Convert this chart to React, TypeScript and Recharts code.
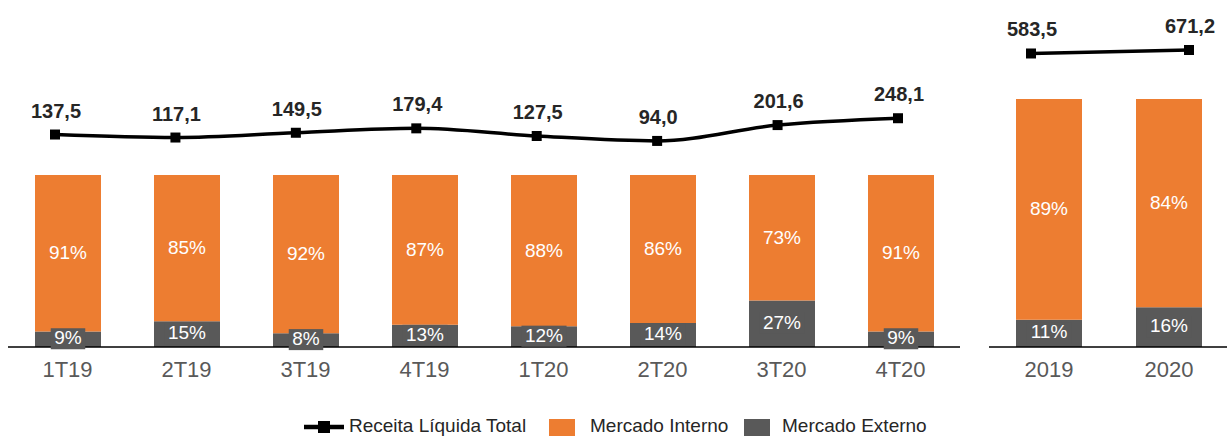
import React from "react";
import { ComposedChart, Bar, Line, XAxis, YAxis, LabelList } from "recharts";

// quarterly panel
const quarters = ["1T19", "2T19", "3T19", "4T19", "1T20", "2T20", "3T20", "4T20"];
const quarterRevenue = [137.5, 117.1, 149.5, 179.4, 127.5, 94.0, 201.6, 248.1];
const quarterInterno = [91, 85, 92, 87, 88, 86, 73, 91];
const quarterExterno = [9, 15, 8, 13, 12, 14, 27, 9];

// yearly panel
const years = ["2019", "2020"];
const yearRevenue = [583.5, 671.2];
const yearInterno = [89, 84];
const yearExterno = [11, 16];

const ORANGE = "#ED7D31";
const GRAY = "#595959";
const FONT = "'Liberation Sans', Arial, sans-serif";

const buildRows = (cats: string[], rev: number[], int: number[], ext: number[]) =>
  cats.map((name, i) => ({ name, receita: rev[i], interno: int[i], externo: ext[i] }));

const quarterRows = buildRows(quarters, quarterRevenue, quarterInterno, quarterExterno);
const yearRows = buildRows(years, yearRevenue, yearInterno, yearExterno);

const fmt = (v: number) => v.toFixed(1).replace(".", ",");

const RevenueLabel = (props: any) => {
  const { x, y, value } = props;
  return (
    <text x={x + 1} y={y - 17} textAnchor="middle" fontFamily={FONT} fontSize={20} fontWeight="bold" fill="#262626">
      {fmt(value)}
    </text>
  );
};

const InnerLabel = (withBox: boolean) => (props: any) => {
  const { x, y, width, height, value } = props;
  const cx = x + width / 2;
  const cy = y + height / 2;
  const w = (String(value).length * 10.6 + 16.9) + 7;
  return (
    <g>
      {withBox && <rect x={cx - w / 2} y={cy - 11} width={w} height={21} fill={GRAY} />}
      <text x={cx} y={cy + (withBox ? 5 : 6)} textAnchor="middle" fontFamily={FONT} fontSize={19} fill="#ffffff">
        {value + "%"}
      </text>
    </g>
  );
};

const Marker = (props: any) => {
  const { cx, cy } = props;
  return <rect x={cx - 5} y={cy - 5} width={10} height={10} fill="#000" />;
};

function Panel({ rows, width, left, right, barMax, lineDomain, linePad }: any) {
  return (
    <ComposedChart
      width={width}
      height={437}
      data={rows}
      margin={{ top: 20, right, bottom: 60, left }}
    >
      <XAxis
        dataKey="name"
        tickLine={false}
        axisLine={{ stroke: "#000", strokeWidth: 1.5 }}
        tick={{ fill: GRAY, fontSize: 22, fontFamily: FONT }}
        tickMargin={8}
      />
      <XAxis xAxisId="line" dataKey="name" hide scale="point" padding={linePad} />
      <YAxis yAxisId="pct" hide domain={[0, barMax]} />
      <YAxis yAxisId="rev" hide orientation="right" domain={lineDomain} />
      <Bar yAxisId="pct" dataKey="externo" stackId="s" fill={GRAY} barSize={66} isAnimationActive={false}>
        <LabelList dataKey="externo" content={InnerLabel(true)} />
      </Bar>
      <Bar yAxisId="pct" dataKey="interno" stackId="s" fill={ORANGE} barSize={66} isAnimationActive={false}>
        <LabelList dataKey="interno" content={InnerLabel(false)} />
      </Bar>
      <Line
        xAxisId="line"
        yAxisId="rev"
        type="monotone"
        dataKey="receita"
        stroke="#000"
        strokeWidth={3.5}
        dot={<Marker />}
        activeDot={false}
        isAnimationActive={false}
      >
        <LabelList dataKey="receita" content={<RevenueLabel />} />
      </Line>
    </ComposedChart>
  );
}

function LegendRow() {
  const text: React.CSSProperties = {
    position: "absolute",
    top: 416,
    fontFamily: FONT,
    fontSize: 19,
    lineHeight: "19px",
    color: "#262626",
    whiteSpace: "nowrap",
  };
  const box = (left: number, color: string): React.CSSProperties => ({
    position: "absolute",
    left,
    top: 419,
    width: 26,
    height: 17,
    background: color,
  });
  return (
    <>
      <svg width={40} height={14} style={{ position: "absolute", left: 304, top: 420 }}>
        <line x1={0} y1={7} x2={40} y2={7} stroke="#000" strokeWidth={4.5} />
        <rect x={14} y={1} width={12} height={12} fill="#000" />
      </svg>
      <span style={{ ...text, left: 349 }}>Receita Líquida Total</span>
      <span style={box(549, ORANGE)} />
      <span style={{ ...text, left: 590 }}>Mercado Interno</span>
      <span style={box(744, GRAY)} />
      <span style={{ ...text, left: 782 }}>Mercado Externo</span>
    </>
  );
}

export default function App() {
  return (
    <div
      style={{
        position: "absolute",
        left: 0,
        top: 0,
        width: 1227,
        height: 437,
        overflow: "hidden",
        background: "#fff",
      }}
    >
      <div style={{ position: "absolute", left: 0, top: 0 }}>
        <Panel
          rows={quarterRows}
          width={970}
          left={8}
          right={10}
          barMax={190}
          lineDomain={[-1305, 915]}
          linePad={{ left: 47, right: 62 }}
        />
      </div>
      <div style={{ position: "absolute", left: 980, top: 0 }}>
        <Panel
          rows={yearRows}
          width={250}
          left={9}
          right={1}
          barMax={131.85}
          lineDomain={[-6773, 1423]}
          linePad={{ left: 42, right: 40 }}
        />
      </div>
      <LegendRow />
    </div>
  );
}
